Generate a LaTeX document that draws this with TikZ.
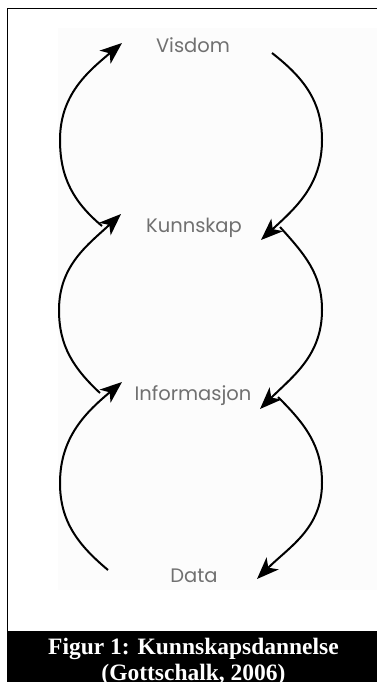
\documentclass[tikz,border=0pt]{standalone}
\usepackage{fontspec}
\usetikzlibrary{arrows.meta}
\newfontfamily\labfont{Poppins}
\newfontfamily\capfont{Liberation Serif}
\definecolor{labgray}{HTML}{707070}
\definecolor{bgfaint}{HTML}{FCFCFC}
\begin{document}
\begin{tikzpicture}[x=1pt,y=1pt,
  lab/.style={font=\labfont\fontsize{19.5}{22}\selectfont, text=labgray, inner sep=0pt, anchor=base},
  captext/.style={font=\capfont\bfseries\fontsize{23.5}{26}\selectfont, text=white, inner sep=0pt, anchor=base},
  cyc/.style={line width=2pt, -{Stealth[length=22pt,width=17pt,inset=6pt]}}]
\useasboundingbox (0,0) rectangle (377,-682);
\fill[white] (0,0) rectangle (377,-682);
\fill[bgfaint] (58,-28) rectangle (377,-590);
\draw[line width=1pt] (377,-9) -- (7,-9) -- (7,-631);
\fill[black] (7,-631) rectangle (377,-682);
% labels
\node[lab] (vis) at (193,-53) {Visdom};
\node[lab] (kun) at (194,-232) {Kunnskap};
\node[lab] (inf) at (193,-400) {Informasjon};
\node[lab] (dat) at (194,-582) {Data};
% caption
\node[captext] (cap1) at (193.5,-654) {Figur 1: Kunnskapsdannelse};
\node[captext] (cap2) at (193.5,-680) {(Gottschalk, 2006)};
% arc coordinates
\coordinate (a1s) at (102,-226); \coordinate (a1m) at (60,-140); \coordinate (a1e) at (122,-43);
\coordinate (a2s) at (272,-53);  \coordinate (a2m) at (322,-140); \coordinate (a2e) at (261,-240);
\coordinate (a3s) at (100,-393); \coordinate (a3m) at (59,-310); \coordinate (a3e) at (121,-214);
\coordinate (a4s) at (280,-227); \coordinate (a4m) at (322,-310); \coordinate (a4e) at (260,-409);
\coordinate (a5s) at (108,-570); \coordinate (a5m) at (60,-483); \coordinate (a5e) at (122,-382);
\coordinate (a6s) at (278,-397); \coordinate (a6m) at (322,-483); \coordinate (a6e) at (257,-579);
% arcs
\draw[cyc] (a1s) to[out=140,in=-90] (a1m) to[out=90,in=-140] (a1e);
\draw[cyc] (a2s) to[out=-38,in=90] (a2m) to[out=-90,in=43] (a2e);
\draw[cyc] (a3s) to[out=137,in=-90] (a3m) to[out=90,in=-137] (a3e);
\draw[cyc] (a4s) to[out=-48,in=90] (a4m) to[out=-90,in=45] (a4e);
\draw[cyc] (a5s) to[out=140,in=-90] (a5m) to[out=90,in=-140] (a5e);
\draw[cyc] (a6s) to[out=-45,in=90] (a6m) to[out=-90,in=45] (a6e);
\end{tikzpicture}
\end{document}
